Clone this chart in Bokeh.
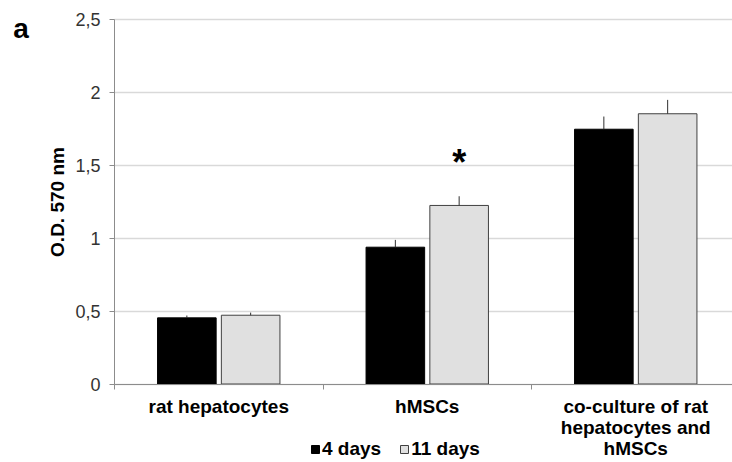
from bokeh.plotting import figure
from bokeh.models import Range1d, FixedTicker, Label, Legend, LegendItem, ColumnDataSource, BoxAnnotation
from bokeh.embed import file_html
from bokeh.resources import INLINE

# ---- data ----
categories = ["rat hepatocytes", "hMSCs", "co-culture of rat\nhepatocytes and\nhMSCs"]
days4 = [0.453, 0.937, 1.745]
days11 = [0.471, 1.223, 1.851]
err4 = [0.016, 0.050, 0.087]
err11 = [0.018, 0.063, 0.095]
series_names = ["4 days", "11 days"]
y_ticks = [0, 0.5, 1, 1.5, 2, 2.5]
y_tick_labels = ["0", "0,5", "1", "1,5", "2", "2,5"]
y_title = "O.D. 570 nm"
panel_letter = "a"
significance = "*"
signif_index = 1  # hMSCs, 11 days

# ---- layout ----
FONT = "Liberation Sans"
W, H = 732, 462
X0, PX_X = 114.0, 208.5     # screen x of data 0, px per category
Y0, PX_Y = 383.5, 146.0     # screen y of data 0, px per unit
n = len(categories)
centers = [i + 0.5 for i in range(n)]
offset = 0.153
bar_w = 0.281

src = ColumnDataSource(dict(
    x4=[c - offset for c in centers],
    x11=[c + offset for c in centers],
    v4=days4,
    v11=days11,
    t4=[v + e for v, e in zip(days4, err4)],
    t11=[v + e for v, e in zip(days11, err11)],
))

p = figure(width=W, height=H, output_backend="svg", toolbar_location=None,
           x_range=Range1d(-X0 / PX_X, (W - X0) / PX_X),
           y_range=Range1d(-(H - Y0) / PX_Y, Y0 / PX_Y),
           min_border=0, min_border_left=0, min_border_right=0,
           min_border_top=0, min_border_bottom=0)
p.outline_line_color = None
p.background_fill_color = "white"
p.border_fill_color = "white"

# grid
p.xgrid.visible = False
p.ygrid.ticker = FixedTicker(ticks=y_ticks)
p.ygrid.grid_line_color = "#d9d9d9"
p.ygrid.grid_line_width = 1.5
try:
    p.ygrid.cross_bounds = (0, n)
except Exception:
    p.add_layout(BoxAnnotation(right=0, fill_color="white", fill_alpha=1.0,
                               line_color=None, level="underlay"))

r4 = p.vbar(x="x4", top="v4", width=bar_w, bottom=0, source=src,
            fill_color="black", line_color="black", line_width=1)
r11 = p.vbar(x="x11", top="v11", width=bar_w, bottom=0, source=src,
             fill_color="#e0e0e0", line_color="#404040", line_width=1)
p.segment(x0="x4", y0="v4", x1="x4", y1="t4", source=src, line_color="#303030", line_width=1)
p.segment(x0="x11", y0="v11", x1="x11", y1="t11", source=src, line_color="#303030", line_width=1)

# y axis (drawn at x = 0)
ya = p.yaxis[0]
ya.fixed_location = 0
ya.bounds = (0, y_ticks[-1])
ya.ticker = FixedTicker(ticks=y_ticks)
ya.major_label_overrides = {t: l for t, l in zip(y_ticks, y_tick_labels)}
ya.axis_line_color = "#8c8c8c"
ya.major_tick_line_color = "#8c8c8c"
ya.major_tick_out = 5
ya.major_tick_in = 0
ya.minor_tick_line_color = None
ya.major_label_text_font = FONT
ya.major_label_text_font_size = "18px"
ya.major_label_text_color = "#333333"
ya.major_label_standoff = 9
ya.axis_label = y_title
ya.axis_label_text_font = FONT
ya.axis_label_text_font_size = "19px"
ya.axis_label_text_font_style = "bold"
ya.axis_label_text_color = "black"
ya.axis_label_standoff = 4

# x axis (drawn at y = 0)
xa = p.xaxis[0]
xa.fixed_location = 0
xa.bounds = (0, n)
xa.ticker = FixedTicker(ticks=centers, minor_ticks=list(range(n + 1)))
xa.major_label_overrides = {c: l for c, l in zip(centers, categories)}
xa.axis_line_color = "#8c8c8c"
xa.major_tick_out = 0
xa.major_tick_in = 0
xa.minor_tick_out = 5
xa.minor_tick_in = 0
xa.minor_tick_line_color = "#8c8c8c"
xa.major_label_text_font = FONT
xa.major_label_text_font_size = "19px"
xa.major_label_text_font_style = "bold"
xa.major_label_text_color = "black"
xa.major_label_text_line_height = 1.0
xa.major_label_standoff = 7

# legend
legend = Legend(items=[LegendItem(label=series_names[0], renderers=[r4]),
                       LegendItem(label=series_names[1], renderers=[r11])],
                orientation="horizontal", location=(310, 2),
                padding=0, margin=0, spacing=18, label_standoff=2,
                glyph_width=10, glyph_height=10, label_height=20,
                border_line_color=None, background_fill_alpha=0,
                label_text_font=FONT, label_text_font_size="19px",
                label_text_font_style="bold", label_text_color="black")
p.add_layout(legend)

# panel letter
p.add_layout(Label(x=(20.5 - X0) / PX_X, y=(Y0 - 28) / PX_Y, text=panel_letter,
                   text_align="center", text_baseline="alphabetic", text_font=FONT,
                   text_font_size="28px", text_font_style="bold", text_color="black"))

# significance star above the hMSCs 11-day bar
p.add_layout(Label(x=src.data["x11"][signif_index], y=(Y0 - 162) / PX_Y, text=significance,
                   text_align="center", text_baseline="alphabetic", text_font=FONT,
                   text_font_size="36px", text_font_style="bold", text_color="black"))

open("out.html", "w").write(file_html(p, INLINE))
